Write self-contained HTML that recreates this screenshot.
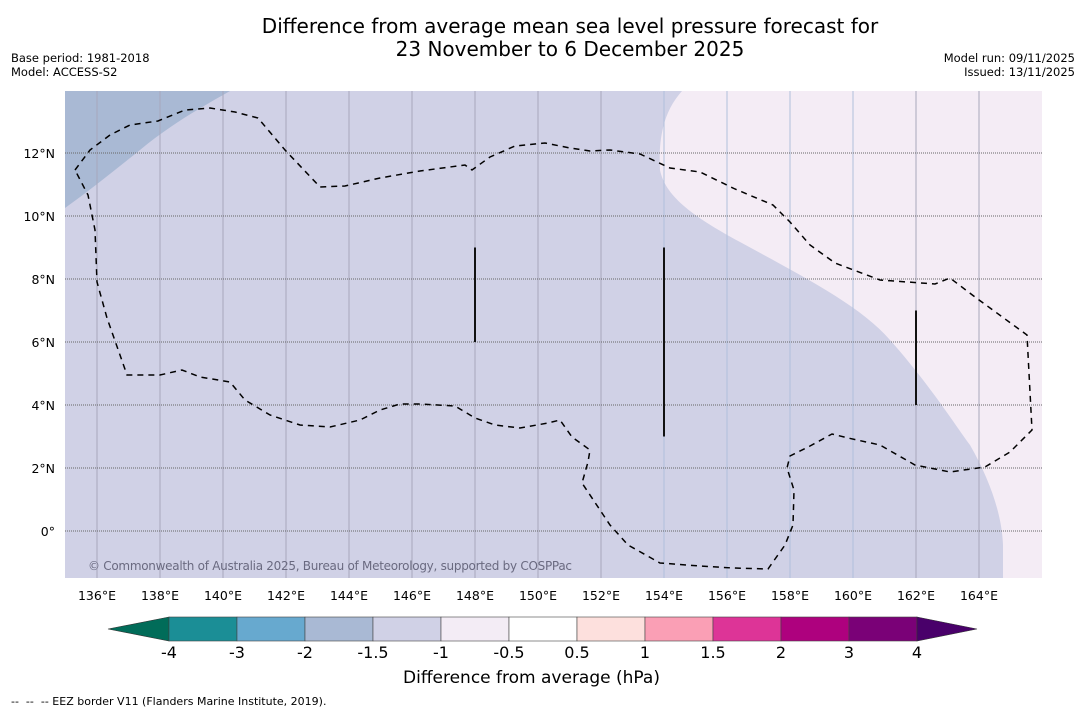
<!DOCTYPE html>
<html><head><meta charset="utf-8"><style>
body{margin:0;background:#fff;font-family:"DejaVu Sans",sans-serif;}
#wrap{position:relative;width:1085px;height:713px;overflow:hidden;}
.t{position:absolute;white-space:nowrap;}
</style></head><body>
<div id="wrap">
<div class="t" style="left:0;width:1140px;top:15px;text-align:center;font-size:20px;line-height:23px;color:#000;font-family:'DejaVu Sans',sans-serif;">Difference from average mean sea level pressure forecast for<br>23 November to 6 December 2025</div>
<div class="t" style="left:11px;top:51px;font-size:11.5px;line-height:14px;font-family:'DejaVu Sans',sans-serif;">Base period: 1981-2018<br>Model: ACCESS-S2</div>
<div class="t" style="right:10px;top:51px;font-size:11.5px;line-height:14px;text-align:right;font-family:'DejaVu Sans',sans-serif;">Model run: 09/11/2025<br>Issued: 13/11/2025</div>
<svg id="map" width="1085" height="713" style="position:absolute;left:0;top:0;font-family:'DejaVu Sans',sans-serif"></svg>
<div class="t" style="left:403px;top:668px;font-size:17px;font-family:'DejaVu Sans',sans-serif;">Difference from average (hPa)</div>
<div class="t" style="left:11px;top:695px;font-size:11px;font-family:'DejaVu Sans',sans-serif;">--&nbsp;&nbsp;--&nbsp;&nbsp;-- EEZ border V11 (Flanders Marine Institute, 2019).</div>
</div>
<script>
const lonTicks=[136,138,140,142,144,146,148,150,152,154,156,158,160,162,164];
const latTicks=[0,2,4,6,8,10,12];
const cbLevels=["-4","-3","-2","-1.5","-1","-0.5","0.5","1","1.5","2","3","4"];
const cbColors=["#1b8e96","#67a9cf","#a9b9d4","#d0d1e6","#f3ecf5","#ffffff","#fde0dd","#fa9fb5","#dd3497","#ae017e","#7a0177"];
const segLon=[[148,9,6],[154,9,3],[162,7,4]];
const NS="http://www.w3.org/2000/svg";
const svg=document.getElementById('map');
const X=lon=>65.5+(lon-135)*31.5, Y=lat=>531-lat*31.5;
function el(tag,a,parent){const e=document.createElementNS(NS,tag);for(const k in a)e.setAttribute(k,a[k]);(parent||svg).appendChild(e);return e;}
const cp=el('clipPath',{id:'clip'});el('rect',{x:65,y:91,width:977,height:487},cp);
const g=el('g',{'clip-path':'url(#clip)'});
let r=el('rect',{x:65,y:91,width:977,height:487,fill:'#d0d1e6'},g);

let p=el('path',{d:'M65,91 L230,91 C200,108 170,125 140,150 C115,170 90,190 65,208 Z',fill:'#a9b9d4'},g);

p=el('path',{d:'M682,91 C665,110 658,135 660,170 C665,195 690,215 740,242 C800,275 860,305 890,340 C930,385 955,425 970,445 C990,480 1002,515 1003,545 L1003,578 L1042,578 L1042,91 Z',fill:'#f4ecf5'},g);

lonTicks.forEach(l=>{const ln=el('line',{x1:X(l),x2:X(l),y1:91,y2:578,stroke:(l>=154&&l<=160)?'#b0c0dc':'#a8a8bc','stroke-width':1},g);

const t=el('text',{x:X(l),y:600,'text-anchor':'middle','font-size':12.5,fill:'#000'});t.textContent=l+'°E';
});
latTicks.forEach(l=>{const ln=el('line',{x1:65,x2:1042,y1:Y(l),y2:Y(l),stroke:'#666','stroke-width':1,'stroke-dasharray':'1,1'},g);

const t=el('text',{x:55,y:Y(l)+5,'text-anchor':'end','font-size':12.5,fill:'#000'});t.textContent=l===0?'0°':l+'°N';
});
p=el('path',{d:'M75,170 L90,150 L110,135 L130,125 L158,121 L185,110 L210,108 L235,112 L258,118 L285,150 L320,187 L345,186 L380,178 L420,171 L465,165 L472,170 L490,157 L515,146 L545,143 L570,148 L590,151 L610,150 L640,154 L670,168 L700,172 L735,189 L773,205 L790,222 L810,245 L835,263 L880,280 L935,284 L950,278 L975,297 L1027,335 L1032,430 L1010,452 L985,467 L950,472 L915,465 L880,445 L848,438 L832,434 L810,446 L790,456 L787,468 L794,490 L793,525 L785,545 L768,569 L733,568 L700,566 L660,563 L628,545 L610,525 L582,483 L588,462 L590,450 L572,437 L560,420 L548,423 L520,428 L495,425 L475,418 L455,406 L420,404 L400,404 L380,410 L360,420 L330,427 L300,425 L270,415 L245,400 L230,382 L200,377 L182,370 L160,375 L127,375 L107,318 L97,282 L95,230 L88,195 Z',fill:'none',stroke:'#000','stroke-width':1.5,'stroke-dasharray':'6,5'},g);

segLon.forEach(s=>{const ln=el('line',{x1:X(s[0]),x2:X(s[0]),y1:Y(s[1]),y2:Y(s[2]),stroke:'#111','stroke-width':2},g);
});
let ct=el('text',{x:88,y:570,'font-size':12,fill:'#6a6a80',textLength:484},g);ct.textContent='© Commonwealth of Australia 2025, Bureau of Meteorology, supported by COSPPac';

const cb0=169,cbw=68,cy=617,ch=24;
let tri=el('path',{d:`M${cb0},${cy} L108,${cy+ch/2} L${cb0},${cy+ch} Z`,fill:'#016c59',stroke:'#333','stroke-width':0.6});

cbColors.forEach((c,i)=>{const b=el('rect',{x:cb0+i*cbw,y:cy,width:cbw,height:ch,fill:c,stroke:'#444','stroke-width':0.6});
});
const cbEnd=cb0+cbColors.length*cbw;
tri=el('path',{d:`M${cbEnd},${cy} L977,${cy+ch/2} L${cbEnd},${cy+ch} Z`,fill:'#49006a',stroke:'#333','stroke-width':0.6});

cbLevels.forEach((l,i)=>{const t=el('text',{x:cb0+i*cbw,y:658,'text-anchor':'middle','font-size':16,fill:'#000'});t.textContent=l;
});
</script>
</body></html>
